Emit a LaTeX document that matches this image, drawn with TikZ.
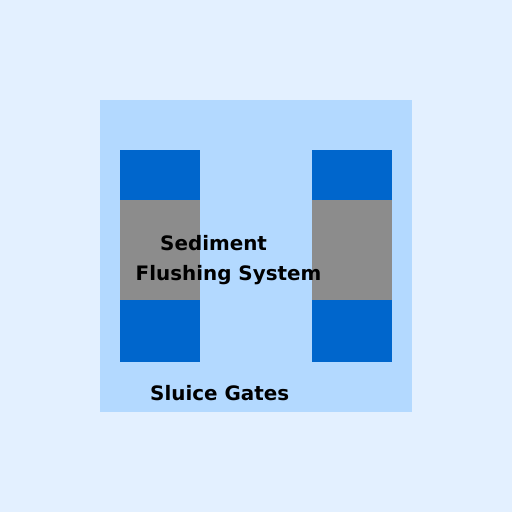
\documentclass[tikz,border=0pt]{standalone}
\usepackage{fontspec}
\setmainfont{DejaVu Sans}
\definecolor{bgc}{HTML}{E3F0FF}
\definecolor{panel}{HTML}{B3D9FF}
\definecolor{gate}{HTML}{0066CC}
\definecolor{sed}{HTML}{8C8C8C}
\tikzset{lbl/.style={anchor=base west,inner sep=0pt,font=\fontsize{19.9}{22}\selectfont\bfseries,text=black}}
\begin{document}
\begin{tikzpicture}[x=1pt,y=-1pt]
\fill[bgc] (0,0) rectangle (512,512);
\useasboundingbox (0,0) rectangle (512,512);
\fill[panel] (100,100) rectangle (412,412);
\foreach \x in {120,312}{
  \fill[gate] (\x,150) rectangle (\x+80,200);
  \fill[sed] (\x,200) rectangle (\x+80,300);
  \fill[gate] (\x,300) rectangle (\x+80,362);
}
\node[lbl] (t1) at (160,250) {Sediment};
\node[lbl] (t2) at (135.5,280) {Flushing System};
\node[lbl] (t3) at (150,400) {Sluice Gates};
\end{tikzpicture}
\end{document}
